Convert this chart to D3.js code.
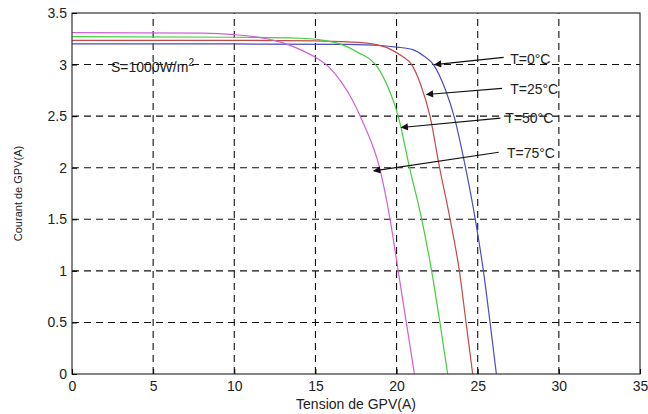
<!DOCTYPE html>
<html>
<head>
<meta charset="utf-8">
<script src="https://cdn.jsdelivr.net/npm/d3@7"></script>
<style>
  body { margin: 0; background: #fff; }
  text { font-family: "Liberation Sans", Arial, sans-serif; fill: #222; }
</style>
</head>
<body>
<div class="container"></div>
<script>
// tick labels
const xTicks = [0, 5, 10, 15, 20, 25, 30, 35];
const yTicks = [0, 0.5, 1, 1.5, 2, 2.5, 3, 3.5];

// I-V curves (voltage, current)
const curve0 = [[0,3.2],[10,3.2],[17,3.195],[19,3.185],[20,3.17],[21,3.145],[21.7,3.08],[22.27,3.0],[23.0,2.76],[23.54,2.5],[24.25,2.0],[24.85,1.5],[25.35,1.0],[25.76,0.5],[26.15,0]];
const curve25 = [[0,3.235],[10,3.235],[15,3.23],[17,3.22],[18.5,3.2],[19.6,3.15],[20.35,3.08],[20.93,3.0],[21.5,2.8],[22.06,2.5],[22.65,2.0],[23.3,1.5],[23.87,1.0],[24.28,0.5],[24.69,0]];
const curve50 = [[0,3.27],[10,3.265],[14,3.255],[15.5,3.235],[16.5,3.2],[17.6,3.12],[18.8,2.98],[19.5,2.77],[20.1,2.5],[20.8,2.0],[21.55,1.5],[22.16,1.0],[22.67,0.5],[23.15,0]];
const curve75 = [[0,3.31],[8,3.305],[10,3.29],[12,3.25],[13,3.21],[14,3.15],[15,3.07],[15.8,2.98],[16.6,2.83],[17.3,2.65],[17.9,2.45],[18.95,2.0],[19.6,1.5],[20.1,1.0],[20.6,0.5],[21.1,0]];

const series = [
  {name: "T=0°C",  pts: curve0,  color: "#4b4bc4"},
  {name: "T=25°C", pts: curve25, color: "#c84848"},
  {name: "T=50°C", pts: curve50, color: "#3dd03d"},
  {name: "T=75°C", pts: curve75, color: "#d060d0"}
];

// annotation: label position, arrow tail, arrow head (data units)
const labels = [
  {text: "T=0°C",  at: [27.0, 3.05], from: [26.6, 3.07], to: [22.35, 3.0]},
  {text: "T=25°C", at: [27.0, 2.76], from: [26.5, 2.77], to: [21.85, 2.71]},
  {text: "T=50°C", at: [26.7, 2.48], from: [26.4, 2.48], to: [20.3, 2.39]},
  {text: "T=75°C", at: [26.8, 2.14], from: [26.3, 2.15], to: [18.6, 1.97]}
];

const w = 648, h = 414;
const margin = {left: 72, right: 8, top: 13, bottom: 40};

const svg = d3.select(".container").append("svg")
  .attr("width", w).attr("height", h);

const xScale = d3.scaleLinear().domain([0, 35]).range([margin.left, w - margin.right]);
const yScale = d3.scaleLinear().domain([0, 3.5]).range([h - margin.bottom, margin.top]);

svg.append("defs").append("marker")
  .attr("id", "arrow")
  .attr("viewBox", "0 0 10 10")
  .attr("refX", 9).attr("refY", 5)
  .attr("markerWidth", 10).attr("markerHeight", 6)
  .attr("orient", "auto")
  .append("path").attr("d", "M0,0L10,5L0,10z").attr("fill", "#111");

// grid
const grid = svg.append("g");
grid.selectAll(".gx").data(xTicks.slice(1, -1)).enter().append("line")
  .attr("x1", d => xScale(d)).attr("x2", d => xScale(d))
  .attr("y1", yScale(0)).attr("y2", yScale(3.5))
  .attr("stroke", "#111").attr("stroke-width", 1.1).attr("stroke-dasharray", "7,5");
grid.selectAll(".gy").data(yTicks.slice(1, -1)).enter().append("line")
  .attr("y1", d => yScale(d)).attr("y2", d => yScale(d))
  .attr("x1", xScale(0)).attr("x2", xScale(35))
  .attr("stroke", "#111").attr("stroke-width", 1.1).attr("stroke-dasharray", "7,5");

// curves
const line = d3.line().x(d => xScale(d[0])).y(d => yScale(d[1])).curve(d3.curveMonotoneX);
svg.selectAll(".curve").data(series).enter().append("path")
  .attr("d", d => line(d.pts))
  .attr("fill", "none").attr("stroke", d => d.color).attr("stroke-width", 1.2);

// frame
svg.append("rect")
  .attr("x", xScale(0)).attr("y", yScale(3.5))
  .attr("width", xScale(35) - xScale(0)).attr("height", yScale(0) - yScale(3.5))
  .attr("fill", "none").attr("stroke", "#333").attr("stroke-width", 1.2);

// axes
const xAxis = d3.axisBottom(xScale).tickValues(xTicks).tickSize(-5).tickPadding(7);
svg.append("g").attr("transform", `translate(0,${yScale(0)})`).call(xAxis)
  .call(g => g.select(".domain").remove())
  .call(g => g.selectAll("text").style("font-size", "14px"));
const yAxis = d3.axisLeft(yScale).tickValues(yTicks).tickFormat(d3.format("~g"))
  .tickSize(-5).tickPadding(5);
svg.append("g").attr("transform", `translate(${xScale(0)},0)`).call(yAxis)
  .call(g => g.select(".domain").remove())
  .call(g => g.selectAll("text").style("font-size", "14px"));

// axis titles
svg.append("text")
  .attr("x", (xScale(0) + xScale(35)) / 2).attr("y", h - 5)
  .attr("text-anchor", "middle").style("font-size", "14px")
  .text("Tension de GPV(A)");
svg.append("text")
  .attr("transform", `translate(22,${yScale(1.75)}) rotate(-90)`)
  .attr("text-anchor", "middle").style("font-size", "11px")
  .text("Courant de GPV(A)");

// irradiance note
const note = svg.append("text")
  .attr("x", xScale(2.4)).attr("y", yScale(2.93))
  .style("font-size", "14px").text("S=1000W/m");
note.append("tspan").attr("dy", -6).style("font-size", "10px").text("2");

// annotations
const ann = svg.selectAll(".ann").data(labels).enter().append("g");
ann.append("line")
  .attr("x1", d => xScale(d.from[0])).attr("y1", d => yScale(d.from[1]))
  .attr("x2", d => xScale(d.to[0])).attr("y2", d => yScale(d.to[1]))
  .attr("stroke", "#111").attr("stroke-width", 1.2)
  .attr("marker-end", "url(#arrow)");
ann.append("text")
  .attr("x", d => xScale(d.at[0])).attr("y", d => yScale(d.at[1]))
  .attr("dy", "0.35em").style("font-size", "14px")
  .text(d => d.text);
</script>
</body>
</html>
